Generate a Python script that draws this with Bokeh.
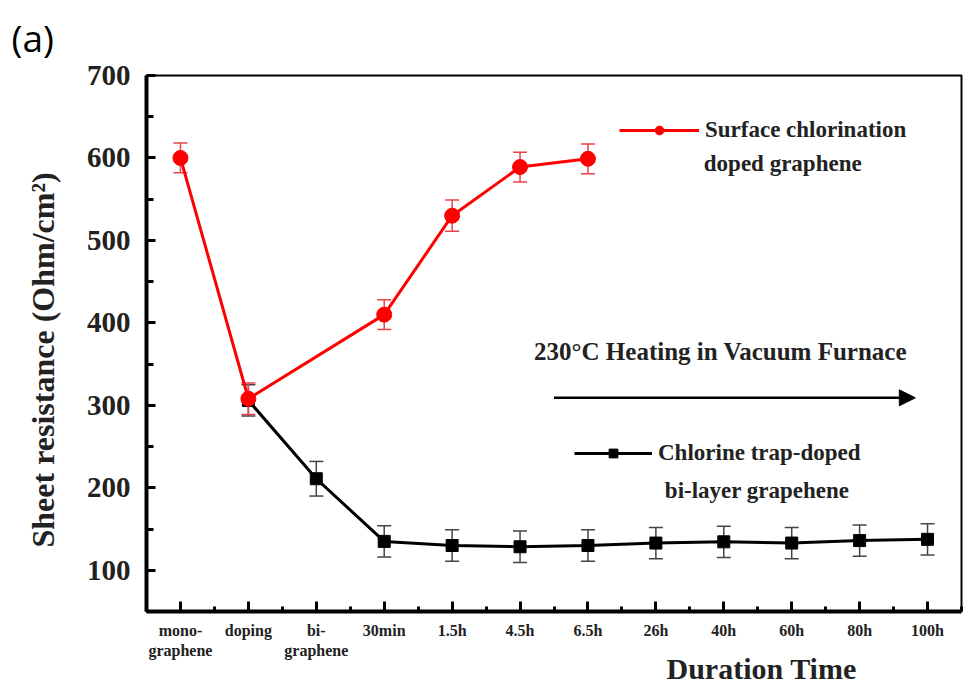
from bokeh.plotting import figure
from bokeh.models import (FixedTicker, Whisker, ColumnDataSource, Label, Arrow, Title,
                          NormalHead, Legend, LegendItem, TeeHead, Range1d)
from bokeh.embed import file_html
from bokeh.resources import INLINE

# ---------------- data ----------------
categories = ["mono-\ngraphene", "doping", "bi-\ngraphene", "30min", "1.5h", "4.5h",
              "6.5h", "26h", "40h", "60h", "80h", "100h"]

red_pos = [0, 1, 3, 4, 5, 6]
red_vals = [600, 308, 410, 530, 589, 599]
red_err = [18, 19, 18, 19, 18, 18]

black_pos = [1, 2, 3, 4, 5, 6, 7, 8, 9, 10, 11]
black_vals = [306, 211, 135, 130, 128.5, 130, 133, 134.5, 133, 136, 137.5]
black_err = [19, 21, 19, 19, 19, 19, 19, 19, 19, 19, 19]

y_ticks = [100, 200, 300, 400, 500, 600, 700]

FONT = "Liberation Serif"
RED = "#ff0000"
TXT = "#222222"

red_src = ColumnDataSource(dict(x=red_pos, y=red_vals,
                                lo=[v - e for v, e in zip(red_vals, red_err)],
                                hi=[v + e for v, e in zip(red_vals, red_err)]))
blk_src = ColumnDataSource(dict(x=black_pos, y=black_vals,
                                lo=[v - e for v, e in zip(black_vals, black_err)],
                                hi=[v + e for v, e in zip(black_vals, black_err)]))

p = figure(width=967, height=684, x_range=Range1d(-0.5, 11.5), y_range=Range1d(50, 700),
           output_backend="svg", toolbar_location=None,
           min_border_left=145, min_border_right=6, min_border_top=74, min_border_bottom=73)
p.xgrid.visible = False
p.ygrid.visible = False
p.outline_line_color = "black"
p.outline_line_width = 2
p.outline_line_alpha = 1
p.background_fill_color = "white"

# x axis
xa = p.xaxis[0]
xa.ticker = FixedTicker(ticks=list(range(12)), minor_ticks=[i + 0.5 for i in range(-1, 12)])
xa.major_label_overrides = {i: c for i, c in enumerate(categories)}
xa.axis_line_width = 4
xa.major_tick_in = 10
xa.major_tick_out = 0
xa.major_tick_line_width = 3
xa.minor_tick_in = 5
xa.minor_tick_out = 0
xa.minor_tick_line_width = 3
xa.major_label_text_font = FONT
xa.major_label_text_font_style = "bold"
xa.major_label_text_font_size = "16px"
xa.major_label_text_color = TXT
xa.major_label_standoff = 10

# y axis
ya = p.yaxis[0]
ya.ticker = FixedTicker(ticks=y_ticks, minor_ticks=[v + 50 for v in [0] + y_ticks[:-1]])
ya.axis_line_width = 4
ya.major_tick_in = 9
ya.major_tick_out = 0
ya.major_tick_line_width = 3
ya.minor_tick_in = 7
ya.minor_tick_out = 0
ya.minor_tick_line_width = 3
ya.major_label_text_font = FONT
ya.major_label_text_font_style = "bold"
ya.major_label_text_font_size = "29px"
ya.major_label_text_color = TXT
ya.major_label_standoff = 16

# error bars
p.add_layout(Whisker(base="x", upper="hi", lower="lo", source=blk_src,
                     line_color="#444444", line_width=1.5,
                     upper_head=TeeHead(size=14, line_color="#444444", line_width=1.5),
                     lower_head=TeeHead(size=14, line_color="#444444", line_width=1.5)))
p.add_layout(Whisker(base="x", upper="hi", lower="lo", source=red_src,
                     line_color="#e8444c", line_width=1.5,
                     upper_head=TeeHead(size=14, line_color="#e8444c", line_width=1.5),
                     lower_head=TeeHead(size=14, line_color="#e8444c", line_width=1.5)))

# series
bl = p.line("x", "y", source=blk_src, line_color="black", line_width=3)
bs = p.scatter("x", "y", source=blk_src, marker="square", size=12,
               fill_color="black", line_color="black")
rl = p.line("x", "y", source=red_src, line_color=RED, line_width=3)
rs = p.scatter("x", "y", source=red_src, marker="circle", size=15,
               fill_color=RED, line_color=RED)

# legends
def make_legend(label, renderers, loc, gw):
    lg = Legend(items=[LegendItem(label=label, renderers=renderers)], location=loc,
                orientation="vertical", padding=0, margin=0, spacing=0,
                glyph_width=gw, glyph_height=22, label_height=22, label_standoff=6,
                label_text_font=FONT, label_text_font_style="bold",
                label_text_font_size="23px", label_text_color=TXT,
                border_line_color=None, background_fill_alpha=0)
    p.add_layout(lg, "center")

make_legend("Surface chlorination", [rl, rs], (473, 468), 80)
make_legend("Chlorine trap-doped", [bl, bs], (428, 145), 78)

def lab(x, y, text, size):
    p.add_layout(Label(x=x, y=y, text=text, text_font=FONT, text_font_style="bold",
                       text_font_size=size, text_align="left", text_baseline="middle",
                       text_color=TXT))

lab(7.706, 593.5, "doped graphene", "23px")
lab(7.132, 196.5, "bi-layer grapehene", "23px")
lab(5.206, 365.9, "230°C Heating in Vacuum Furnace", "25px")

p.add_layout(Arrow(x_start=5.5, y_start=309.1, x_end=10.82, y_end=309.1,
                   line_width=2.5, line_color="black",
                   end=NormalHead(size=16, fill_color="black", line_color="black")))

# axis titles and panel label (placed in side panels)
p.add_layout(Title(text="Duration Time", align="left", offset=520, standoff=-20,
                   vertical_align="top",
                   text_font=FONT, text_font_style="bold", text_font_size="30px",
                   text_color=TXT), "below")
p.add_layout(Title(text="Sheet resistance (Ohm/cm²)", align="left", offset=64,
                   standoff=45, text_font=FONT, text_font_style="bold",
                   text_font_size="32px", text_color=TXT), "left")
p.add_layout(Title(text="(a)", align="left", offset=-135, standoff=22,
                   vertical_align="top",
                   text_font="Open Sans", text_font_style="normal",
                   text_font_size="37px", text_color="black"), "above")

open("out.html", "w").write(file_html(p, INLINE))
